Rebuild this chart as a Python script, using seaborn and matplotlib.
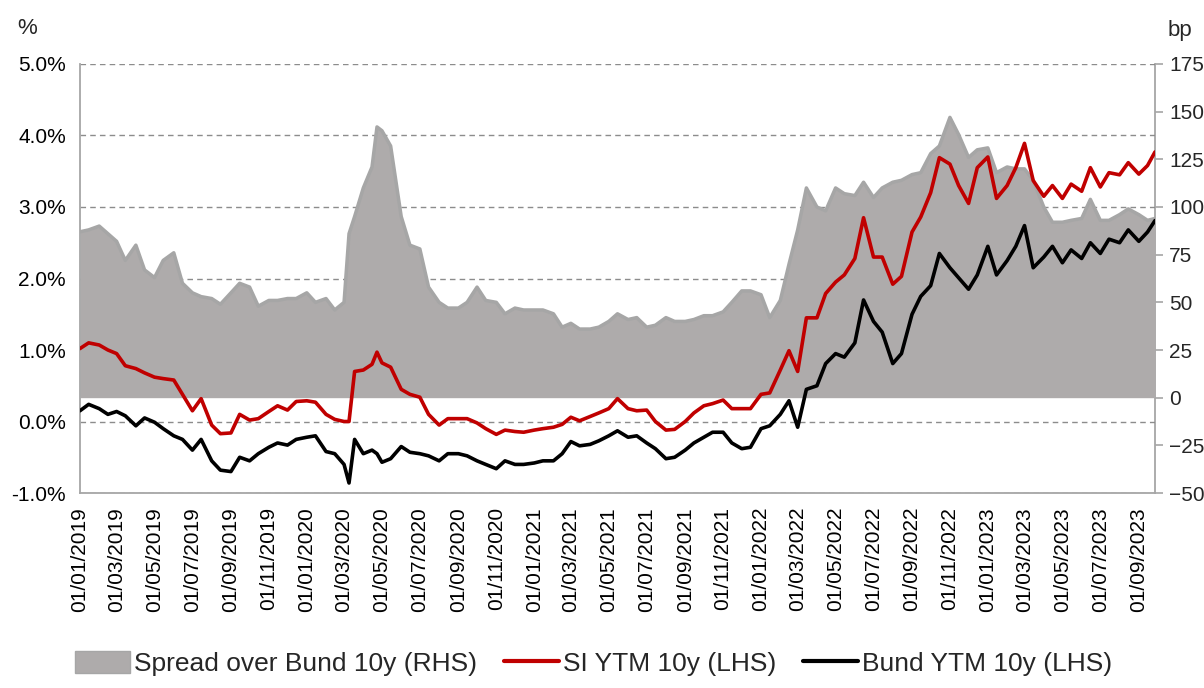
import matplotlib
matplotlib.use("Agg")
import matplotlib.pyplot as plt
import matplotlib.dates as mdates
from matplotlib.patches import Patch
from matplotlib.lines import Line2D
import seaborn as sns
import pandas as pd

# semi-monthly readings (plus a few spike dates)
dates = [
    # 2019
    "2019-01-01", "2019-01-15", "2019-02-01", "2019-02-15", "2019-03-01", "2019-03-15",
    "2019-04-01", "2019-04-15", "2019-05-01", "2019-05-15", "2019-06-01", "2019-06-15",
    "2019-07-01", "2019-07-15", "2019-08-01", "2019-08-15", "2019-09-01", "2019-09-15",
    "2019-10-01", "2019-10-15", "2019-11-01", "2019-11-15", "2019-12-01", "2019-12-15",
    # 2020
    "2020-01-01", "2020-01-15", "2020-02-01", "2020-02-15", "2020-03-01", "2020-03-09",
    "2020-03-18", "2020-04-01", "2020-04-15", "2020-04-23", "2020-05-01", "2020-05-15",
    "2020-06-01", "2020-06-15", "2020-07-01", "2020-07-15", "2020-08-01", "2020-08-15",
    "2020-09-01", "2020-09-15", "2020-10-01", "2020-10-15", "2020-11-01", "2020-11-15",
    "2020-12-01", "2020-12-15",
    # 2021
    "2021-01-01", "2021-01-15", "2021-02-01", "2021-02-15", "2021-03-01", "2021-03-15",
    "2021-04-01", "2021-04-15", "2021-05-01", "2021-05-15", "2021-06-01", "2021-06-15",
    "2021-07-01", "2021-07-15", "2021-08-01", "2021-08-15", "2021-09-01", "2021-09-15",
    "2021-10-01", "2021-10-15", "2021-11-01", "2021-11-15", "2021-12-01", "2021-12-15",
    # 2022
    "2022-01-01", "2022-01-15", "2022-02-01", "2022-02-15", "2022-03-01", "2022-03-15",
    "2022-04-01", "2022-04-15", "2022-05-01", "2022-05-15", "2022-06-01", "2022-06-15",
    "2022-07-01", "2022-07-15", "2022-08-01", "2022-08-15", "2022-09-01", "2022-09-15",
    "2022-10-01", "2022-10-15", "2022-11-01", "2022-11-15", "2022-12-01", "2022-12-15",
    # 2023
    "2023-01-01", "2023-01-15", "2023-02-01", "2023-02-15", "2023-03-01", "2023-03-15",
    "2023-04-01", "2023-04-15", "2023-05-01", "2023-05-15", "2023-06-01", "2023-06-15",
    "2023-07-01", "2023-07-15", "2023-08-01", "2023-08-15", "2023-09-01", "2023-09-15",
    "2023-09-27",
]

# Spread over Bund 10y, bp (RHS)
spread_bp = [
    87, 88, 90, 86, 82, 72, 80, 67, 63, 72, 76, 60, 55, 53, 52, 49, 55, 60, 58, 48, 51, 51, 52, 52,
    55, 50, 52, 46, 50, 86, 95, 110, 121, 142, 140, 132, 95, 80, 78, 58, 50, 47, 47, 50, 58, 51,
    50, 44, 47, 46,
    46, 46, 44, 37, 39, 36, 36, 37, 40, 44, 41, 42, 37, 38, 42, 40, 40, 41, 43, 43, 45, 50, 56, 56,
    54, 42, 51, 70, 88, 110, 100, 98, 110, 107, 106, 113, 105, 110, 113, 114, 117, 118, 128, 132,
    147, 138, 126, 130,
    131, 118, 121, 120, 120, 114, 100, 92, 92, 93, 94, 104, 93, 93, 96, 99, 96, 93, 94,
]

# SI YTM 10y, % (LHS)
si_ytm = [
    1.02, 1.10, 1.07, 1.00, 0.95, 0.78, 0.74, 0.68, 0.62, 0.60, 0.58, 0.38,
    0.15, 0.32, -0.05, -0.17, -0.16, 0.10, 0.02, 0.04, 0.14, 0.22, 0.16, 0.28,
    0.29, 0.27, 0.10, 0.03, 0.00, 0.00, 0.70, 0.72, 0.80, 0.97, 0.82, 0.76, 0.45,
    0.38, 0.34, 0.10, -0.05, 0.04, 0.04, 0.04, -0.02, -0.10, -0.18, -0.12, -0.14, -0.15,
    -0.12, -0.10, -0.08, -0.04, 0.06, 0.01, 0.07, 0.12, 0.18, 0.32, 0.18, 0.15,
    0.16, 0.00, -0.12, -0.11, 0.00, 0.12, 0.22, 0.25, 0.30, 0.18, 0.18, 0.18,
    0.38, 0.40, 0.72, 0.99, 0.70, 1.45, 1.45, 1.79, 1.95, 2.05, 2.28, 2.85,
    2.30, 2.30, 1.92, 2.03, 2.65, 2.86, 3.20, 3.69, 3.60, 3.30, 3.05, 3.55,
    3.70, 3.12, 3.30, 3.55, 3.89, 3.37, 3.15, 3.30, 3.12, 3.32, 3.22, 3.55,
    3.28, 3.48, 3.45, 3.62, 3.46, 3.58, 3.77,
]

# Bund YTM 10y, % (LHS)
bund_ytm = [
    0.15, 0.24, 0.18, 0.10, 0.14, 0.08, -0.06, 0.05, -0.01, -0.10, -0.20, -0.25,
    -0.40, -0.25, -0.55, -0.68, -0.70, -0.50, -0.55, -0.45, -0.36, -0.30, -0.33, -0.25,
    -0.22, -0.20, -0.42, -0.45, -0.60, -0.86, -0.25, -0.45, -0.40, -0.45, -0.57, -0.52, -0.35,
    -0.43, -0.45, -0.48, -0.55, -0.45, -0.45, -0.48, -0.55, -0.60, -0.66, -0.55, -0.60, -0.60,
    -0.58, -0.55, -0.55, -0.45, -0.28, -0.34, -0.32, -0.27, -0.20, -0.13, -0.22, -0.20,
    -0.30, -0.38, -0.52, -0.50, -0.40, -0.30, -0.22, -0.15, -0.15, -0.30, -0.38, -0.36,
    -0.10, -0.06, 0.10, 0.29, -0.08, 0.45, 0.50, 0.81, 0.95, 0.90, 1.10, 1.70,
    1.40, 1.25, 0.81, 0.95, 1.50, 1.75, 1.90, 2.35, 2.15, 2.01, 1.85, 2.05,
    2.45, 2.05, 2.25, 2.45, 2.74, 2.15, 2.30, 2.45, 2.22, 2.40, 2.28, 2.50,
    2.35, 2.55, 2.50, 2.68, 2.52, 2.65, 2.81,
]

df = pd.DataFrame({"date": pd.to_datetime(dates), "spread": spread_bp,
                   "si": si_ytm, "bund": bund_ytm})


# left axis -1%..5% and right axis -50..175bp share the same height
def bp_to_pct(bp):
    return (bp + 50) / 37.5 - 1


def pct_to_bp(p):
    return (p + 1) * 37.5 - 50


sns.set_style("white")
plt.rcParams['font.family'] = ['Liberation Sans', 'DejaVu Sans']

AXIS_GREY = '#a6a6a6'
FILL_GREY = '#aeabab'
RED = '#c00000'

fig = plt.figure(figsize=(12.04, 6.88), dpi=100)
ax = fig.add_axes([0.0664, 0.2834, 0.8929, 0.6236])

spread_pos = bp_to_pct(df['spread'])
ax.fill_between(df['date'], bp_to_pct(0), spread_pos, color=FILL_GREY, lw=0, zorder=1)
ax.plot(df['date'], spread_pos, color=AXIS_GREY, lw=2.5, zorder=1.5)
sns.lineplot(data=df, x='date', y='si', ax=ax, color=RED, lw=2.6, zorder=3)
sns.lineplot(data=df, x='date', y='bund', ax=ax, color='black', lw=2.6, zorder=3)

ax.set_ylim(-1, 5)
ax.set_yticks([-1, 0, 1, 2, 3, 4, 5])
ax.set_yticklabels([f"{v:.1f}%" for v in [-1, 0, 1, 2, 3, 4, 5]])
ax.set_xlim(pd.Timestamp("2019-01-01"), pd.Timestamp("2023-09-27"))
ax.xaxis.set_major_locator(mdates.MonthLocator(bymonth=[1, 3, 5, 7, 9, 11]))
ax.xaxis.set_major_formatter(mdates.DateFormatter('%d/%m/%Y'))
ax.set_xlabel('')
ax.set_ylabel('')

ax.set_axisbelow(True)
ax.yaxis.grid(True, linestyle=(0, (4, 3)), color='#8c8c8c', lw=1)

for side in ['top', 'right']:
    ax.spines[side].set_visible(False)
for side in ['left', 'bottom']:
    ax.spines[side].set_color(AXIS_GREY)
    ax.spines[side].set_linewidth(1.3)
ax.tick_params(axis='both', which='major', length=6, width=1.2, color=AXIS_GREY,
               labelsize=15, labelcolor='black', direction='out')
ax.tick_params(axis='x', labelrotation=90, pad=4)
ax.tick_params(axis='y', pad=4)

sec = ax.secondary_yaxis('right', functions=(pct_to_bp, bp_to_pct))
sec.set_yticks(list(range(-50, 176, 25)))
sec.spines['right'].set_color(AXIS_GREY)
sec.spines['right'].set_linewidth(1.3)
sec.tick_params(axis='y', length=6, width=1.2, color=AXIS_GREY, labelsize=15,
                direction='out', pad=4)

fig.text(0.0224, 0.959, '%', fontsize=16, ha='center', va='center')
fig.text(0.980, 0.956, 'bp', fontsize=16, ha='center', va='center')

handles = [
    Patch(facecolor=FILL_GREY, edgecolor=AXIS_GREY),
    Line2D([], [], color=RED, lw=3),
    Line2D([], [], color='black', lw=3),
]
labels = ['Spread over Bund 10y (RHS)', 'SI YTM 10y (LHS)', 'Bund YTM 10y (LHS)']
fig.legend(handles, labels, loc='center', bbox_to_anchor=(0.493, 0.036), ncol=3,
           frameon=False, fontsize=19, handlelength=2.1, handleheight=0.9,
           handletextpad=0.15, columnspacing=1.0)

fig.savefig('out.png', dpi=100)
